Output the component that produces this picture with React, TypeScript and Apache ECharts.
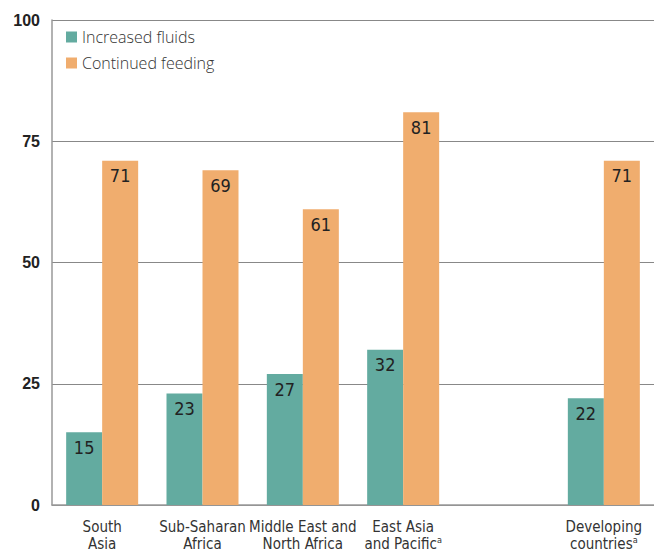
import React, { useEffect, useRef } from "react";
import * as echarts from "echarts";

const categories = ["South\nAsia", "Sub-Saharan\nAfrica", "Middle East and\nNorth Africa", "East Asia\nand Pacific{sup|a}", "", "Developing\ncountries{sup|a}"];
const increasedFluids = [15, 23, 27, 32, null, 22];
const continuedFeeding = [71, 69, 61, 81, null, 71];
const yTicks = [0, 25, 50, 75, 100];

const narrow = "'Liberation Sans Narrow', 'DejaVu Sans Condensed', 'Roboto', sans-serif";

export default function App() {
  const ref = useRef<HTMLDivElement>(null);
  useEffect(() => {
    const chart = echarts.init(ref.current!, null, { renderer: "svg" });
    const valueLabel = {
      show: true,
      position: "insideTop",
      distance: 6,
      color: "#222",
      fontSize: 18,
      fontFamily: narrow,
    };
    chart.setOption({
      animation: false,
      grid: { left: 52, top: 20, width: 606, bottom: 45, containLabel: false },
      legend: {
        orient: "vertical",
        left: 61,
        top: 24,
        itemWidth: 11,
        itemHeight: 11,
        itemGap: 10,
        icon: "rect",
        textStyle: { fontSize: 16, color: "#333", fontFamily: "'Open Sans', 'Liberation Sans', sans-serif", fontWeight: 300 },
        data: ["Increased fluids", "Continued feeding"],
      },
      xAxis: {
        type: "category",
        data: categories,
        axisLine: { lineStyle: { color: "#999", width: 1.5 } },
        axisTick: { show: false },
        axisLabel: {
          interval: 0,
          margin: 13,
          color: "#333",
          fontSize: 15,
          lineHeight: 17,
          fontFamily: narrow,
          rich: {
            sup: { fontSize: 9, verticalAlign: "top", padding: [0, 0, 8, 0], color: "#333", fontFamily: narrow },
          },
        },
      },
      yAxis: {
        type: "value",
        min: 0,
        max: 100,
        interval: 25,
        axisLine: { show: true, lineStyle: { color: "#999", width: 1.5 } },
        axisTick: { show: false },
        splitLine: { lineStyle: { color: "#888", width: 1 } },
        axisLabel: {
          color: "#222",
          fontSize: 16,
          fontWeight: "bold",
          margin: 12,
          fontFamily: "'Liberation Sans', Arial, sans-serif",
          formatter: (v: number) => (yTicks.includes(v) ? String(v) : ""),
        },
      },
      series: [
        {
          name: "Increased fluids",
          type: "bar",
          data: increasedFluids,
          barWidth: 36,
          barGap: "0%",
          itemStyle: { color: "#63aba0" },
          label: valueLabel,
        },
        {
          name: "Continued feeding",
          type: "bar",
          data: continuedFeeding,
          barWidth: 36,
          barGap: "0%",
          itemStyle: { color: "#f0ad6e" },
          label: valueLabel,
        },
      ],
    });
    return () => chart.dispose();
  }, []);
  return <div ref={ref} style={{ width: 654, height: 552, position: "absolute", left: 0, top: 0 }} />;
}
